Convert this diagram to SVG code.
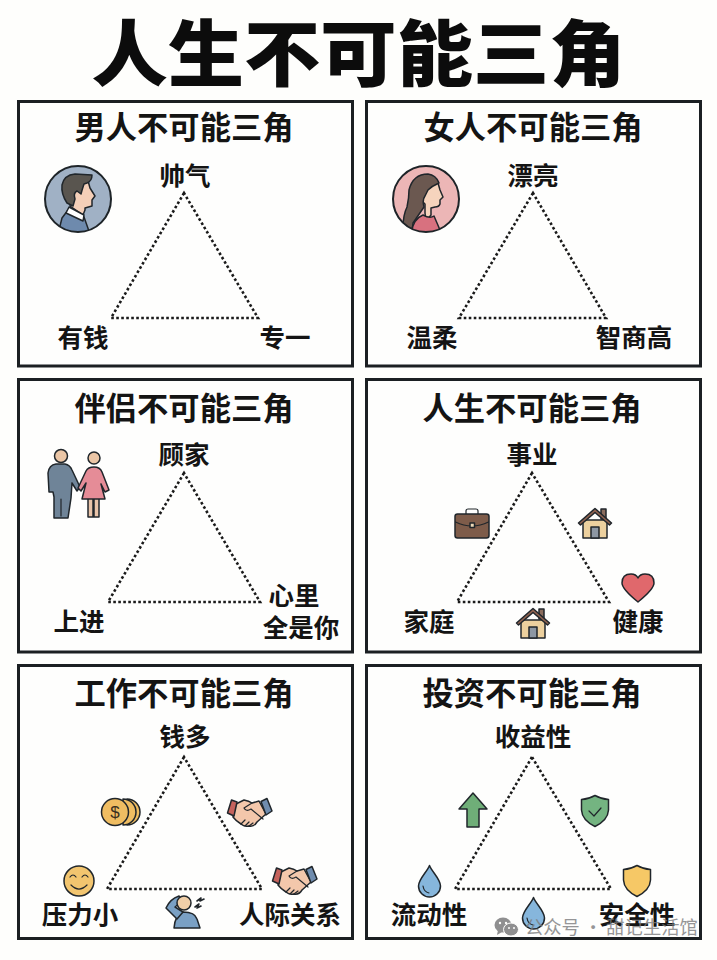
<svg xmlns="http://www.w3.org/2000/svg" width="717" height="960" viewBox="0 0 717 960">
  <style>
    text { font-family: "Noto Sans CJK SC", "Noto Sans", sans-serif; fill: #141414; font-weight: 700; text-anchor: middle; }
    .main { font-size: 72px; font-weight: 900; fill: #0c0c0c; }
    .head { font-size: 31.300px; }
    .lab { font-size: 25.500px; }
    .mark { font-size: 18.300px; font-weight: 400; fill: #7c7c7e; opacity: .8; text-anchor: start; }
    .card { fill: #fefefd; stroke: #1b1f22; stroke-width: 3; }
    .tri { fill: none; stroke: #1a1a1a; stroke-width: 2.600; stroke-dasharray: 2.600 2.400; }
    .ol { stroke: #20262b; stroke-width: 1.500; stroke-linejoin: round; stroke-linecap: round; }
    .thin { fill: none; stroke: #20262b; stroke-width: 1.200; stroke-linecap: round; stroke-linejoin: round; }
  </style>
  <defs>
    <clipPath id="disc-m"><circle cx="78" cy="199" r="33"/></clipPath>
    <clipPath id="disc-f"><circle cx="426" cy="199" r="33"/></clipPath>
    <g id="house">
      <rect class="ol" x="23" y="1" width="5" height="10" fill="#8b6d5e"/>
      <rect class="ol" x="5" y="12" width="24" height="18" fill="#ecd09e"/>
      <rect class="ol" x="13" y="19" width="8" height="11" fill="#8d97a3"/>
      <path class="ol" d="M0.500 15 L17 0.500 L33.500 15 L31.500 17 L17 4.500 L2.500 17 Z" fill="#8f6250"/>
    </g>
    <g id="drop">
      <path class="ol" d="M11.500 0.500 C14 7 22.500 14 22.500 21 A11 11 0 0 1 0.500 21 C0.500 14 9 7 11.500 0.500 Z" fill="#86b6dc"/>
      <path class="thin" d="M5 21 Q6 27 11 28"/>
    </g>
    <g id="shield">
      <path class="ol" d="M14 0.500 Q20 4 27.500 4.500 L27.500 15 Q27 25 14 31.500 Q1 25 0.500 15 L0.500 4.500 Q8 4 14 0.500 Z"/>
    </g>
    <g id="shake">
      <path class="ol" d="M9 6 L17 2 Q22 3 25 5 L32 3 L39 16 L30 24 Q27 29 22 28 Q17 29 14 26 Q9 23 6 19 Z" fill="#f3c7ab"/>
      <path class="thin" d="M25 5 L17 10 Q19 14 24 11 L36 21 M14 26 L18 22 M18 28 L22 24 M22 28 L26 25"/>
      <path class="ol" d="M0.500 15 L4.500 2 L10 4 L7 18 Z" fill="#c5625c"/>
      <path class="ol" d="M34 3.500 L40 0.500 L45 13 L39 17 Z" fill="#6f8cae"/>
    </g>
  </defs>

  <rect width="717" height="960" fill="#fefefc"/>
  <text class="main" transform="translate(358.500 80) scale(1.060 1)">人生不可能三角</text>

  <g id="card-man">
    <rect class="card" x="18.500" y="101.500" width="334" height="264.500"/>
    <text class="head" x="184" y="139">男人不可能三角</text>
    <g clip-path="url(#disc-m)">
      <circle cx="78" cy="199" r="33" fill="#a0b1c5"/>
      <path class="ol" d="M58 234 L62 218 L68 210 L84 217 L90 234 Z" fill="#6e8aad"/>
      <path class="ol" d="M70 206 L83 215 L85 210 L85 208 L92 206 L92 200 L95 196 L90 188 L87 177 L72 185 Z" fill="#f4cfb8"/>
      <path class="ol" d="M66 213 L69 207 L84 215 L83 221 Z" fill="#ffffff"/>
      <path class="ol" d="M62 185 Q64 175 75 174 L92 175 Q92 181 87 183 L84 184 Q82 190 81 194 L77 191 Q73 193 75 199 L73 206 L67 203 Q61 194 62 185 Z" fill="#59554f"/>
    </g>
    <circle cx="78" cy="199" r="33" fill="none" stroke="#1e2428" stroke-width="2"/>
    <text class="lab" x="185" y="185">帅气</text>
    <text class="lab" x="83" y="347">有钱</text>
    <text class="lab" x="285" y="347">专一</text>
  </g>

  <g id="card-woman">
    <rect class="card" x="366.500" y="101.500" width="334" height="264.500"/>
    <text class="head" x="533" y="139">女人不可能三角</text>
    <g clip-path="url(#disc-f)">
      <circle cx="426" cy="199" r="33" fill="#ecb6b6"/>
      <path class="ol" d="M426 221 L431 215 L431 208 L435 207 Q439 207 440 204 L440 200 L443 197 L440 190 L438 183 Q430 184 427 190 Q426 194 423 196 Q421 201 425 204 L425 213 Z" fill="#f6d4bd"/>
      <path class="ol" d="M403 228 Q403 215 407 207 Q409 198 409 190 Q413 174 428 174 Q436 175 439 183 Q432 186 428 190 L425 196 Q422 200 424 207 L413 223 L412 232 Z" fill="#6b5850"/>
      <path class="ol" d="M411 234 Q413 219 423 215 Q430 219 434 216 L440 230 L436 234 Z" fill="#d8717f"/>
    </g>
    <circle cx="426" cy="199" r="33" fill="none" stroke="#1e2428" stroke-width="2"/>
    <text class="lab" x="533" y="185">漂亮</text>
    <text class="lab" x="432" y="347">温柔</text>
    <text class="lab" x="634" y="347">智商高</text>
  </g>

  <g id="card-partner">
    <rect class="card" x="18.500" y="379.500" width="334" height="272.500"/>
    <text class="head" x="184" y="420">伴侣不可能三角</text>
    <g>
      <circle class="ol" cx="61" cy="456" r="6.500" fill="#ebc6a6"/>
      <path class="ol" d="M54 518 L54 497 L53 492 L49 492 L48 473 Q49 465 56 464 L65 464 Q70 465 72 470 L80 487 L77 491 L72 483 L71 498 L68 518 Z" fill="#6f8498"/>
      <path class="thin" d="M61 499 L61 516"/>
      <circle class="ol" cx="94" cy="458" r="6" fill="#ebc6a6"/>
      <path class="ol" d="M88 498 L88 517 L93 517 L93 498 Z M94 498 L94 517 L99 517 L99 498 Z" fill="#e9c4a9"/>
      <path class="ol" d="M82 499 L86 483 L81 491 L78 488 L86 471 Q88 467 94 467 Q100 467 102 472 L109 490 L105 492 L101 484 L105 499 Z" fill="#e58c97"/>
    </g>
    <text class="lab" x="184" y="464">顾家</text>
    <text class="lab" x="79" y="631">上进</text>
    <text class="lab" x="294" y="605">心里</text>
    <text class="lab" x="301" y="637">全是你</text>
  </g>

  <g id="card-life">
    <rect class="card" x="366.500" y="379.500" width="334" height="272.500"/>
    <text class="head" x="532" y="420">人生不可能三角</text>
    <g>
      <path class="thin" d="M466 514 L466 511 Q466 509 468 509 L476 509 Q478 509 478 511 L478 514" stroke-width="1.500"/>
      <rect class="ol" x="455" y="514" width="34" height="24" rx="2.500" fill="#7e5c4a"/>
      <path class="thin" d="M455.500 522 Q472 530 488.500 522"/>
      <rect class="ol" x="470" y="523" width="4.500" height="4.500" fill="#edd9b7" stroke-width="1"/>
    </g>
    <use href="#house" x="578" y="508"/>
    <use href="#house" x="516" y="608"/>
    <path class="ol" d="M638 602 Q622 589 622 583 Q622 574 631 574 Q636 574 638 578 Q640 574 645 574 Q654 574 654 583 Q654 589 638 602 Z" fill="#e0686c"/>
    <text class="lab" x="532" y="464">事业</text>
    <text class="lab" x="429" y="631">家庭</text>
    <text class="lab" x="638" y="631">健康</text>
  </g>

  <g id="card-work">
    <rect class="card" x="18.500" y="665.500" width="334" height="273"/>
    <text class="head" x="184" y="705">工作不可能三角</text>
    <g>
      <path class="ol" d="M127 799 A13 13 0 1 1 127 825 Z" fill="#efbd62"/>
      <path class="ol" d="M123 799 A13 13 0 1 1 123 825 Z" fill="#efbd62"/>
      <circle class="ol" cx="115" cy="812" r="13.500" fill="#efbd62"/>
      <text x="115" y="818" style="font-size:17px;font-weight:400;fill:#3a3020;font-family:'Liberation Sans',sans-serif">$</text>
    </g>
    <use href="#shake" x="227" y="798"/>
    <use href="#shake" x="272" y="866"/>
    <g>
      <circle class="ol" cx="79" cy="881" r="15" fill="#f2c56f"/>
      <path class="thin" d="M70 877 Q73 873 76 877 M82 877 Q85 873 88 877 M71 885 Q79 893 87 885"/>
    </g>
    <g>
      <path class="ol" d="M174 928 Q175 915 183 912 Q195 912 197 919 L200 928 Z" fill="#7aa0c4"/>
      <path class="ol" d="M177 919 L166 908 Q170 899 179 896 L182 901 L175 907 L183 912 Z" fill="#7aa0c4"/>
      <circle class="ol" cx="184" cy="903" r="7" fill="#f0cfa8"/>
      <path class="thin" style="stroke-width:1.600" d="M195 907 L199 904 L197 908 L201 906 M197 901 L201 898 L200 901 L204 899"/>
    </g>
    <text class="lab" x="185" y="746">钱多</text>
    <text class="lab" x="80" y="924">压力小</text>
    <text class="lab" x="290" y="924">人际关系</text>
  </g>

  <g id="card-invest">
    <rect class="card" x="366.500" y="665.500" width="334" height="273"/>
    <text class="head" x="532" y="705">投资不可能三角</text>
    <path class="ol" d="M473 793 L487 809 L479 809 L479 827 L467 827 L467 809 L459 809 Z" fill="#6fae78"/>
    <use href="#shield" x="581" y="795" fill="#74b481"/>
    <path class="thin" d="M589 811 L594 816 L601 808"/>
    <use href="#shield" x="623" y="865" fill="#f6c866"/>
    <use href="#drop" x="418" y="865"/>
    <use href="#drop" x="522" y="897"/>
    <text class="lab" x="533" y="746">收益性</text>
    <text class="lab" x="429" y="924">流动性</text>
    <text class="lab" x="637" y="924">安全性</text>
  </g>

  <g id="connectors">
    <path class="tri" d="M184 193 L111 318 L258 318 Z"/>
    <path class="tri" d="M533 193 L459 318 L606 318 Z"/>
    <path class="tri" d="M184 473 L108 602 L260 602 Z"/>
    <path class="tri" d="M532 473 L457 602 L609 602 Z"/>
    <path class="tri" d="M184 757 L107 889 L262 889 Z"/>
    <path class="tri" d="M532 757 L455 889 L611 889 Z"/>
  </g>

  <g id="channel-mark" fill="#7c7c7e" opacity=".85">
    <ellipse cx="503" cy="925" rx="8.500" ry="7.500"/>
    <path d="M498 930 L497 935 L502 932 Z"/>
    <ellipse cx="511" cy="929.500" rx="7.500" ry="6.500" stroke="#fefefc" stroke-width="1"/>
    <circle cx="500" cy="923" r="1.200" fill="#fefefc"/>
    <circle cx="506" cy="923" r="1.200" fill="#fefefc"/>
    <circle cx="509" cy="928" r="1" fill="#fefefc"/>
    <circle cx="514" cy="928" r="1" fill="#fefefc"/>
  </g>
  <text class="mark" x="525" y="934">公众号 · 甜记生活馆</text>
</svg>
